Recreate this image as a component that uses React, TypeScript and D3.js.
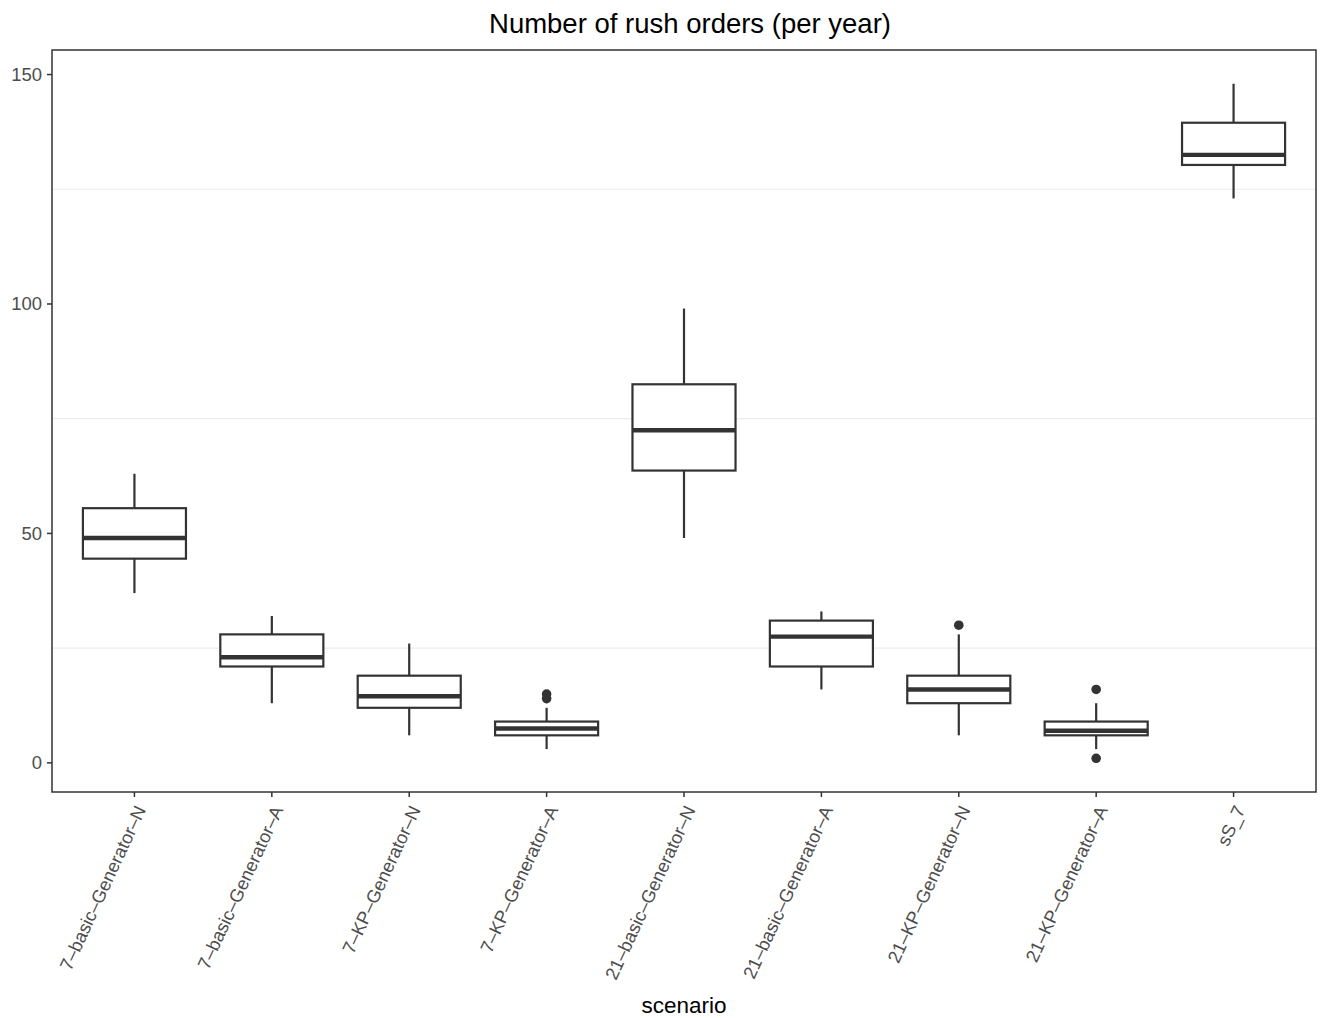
import React from 'react';
import * as d3 from 'd3';

const scenarios = [
  '7–basic–Generator–N',
  '7–basic–Generator–A',
  '7–KP–Generator–N',
  '7–KP–Generator–A',
  '21–basic–Generator–N',
  '21–basic–Generator–A',
  '21–KP–Generator–N',
  '21–KP–Generator–A',
  'sS_7',
];
const lowerWhisker = [37, 13, 6, 3, 49, 16, 6, 3, 123];
const q1 = [44.5, 21, 12, 6, 63.7, 21, 13, 6, 130.3];
const median = [49, 23, 14.5, 7.5, 72.5, 27.5, 16, 7, 132.5];
const q3 = [55.5, 28, 19, 9, 82.5, 31, 19, 9, 139.5];
const upperWhisker = [63, 32, 26, 12, 99, 33, 28, 13, 148];
const outliers: number[][] = [[], [], [], [14, 15], [], [], [30], [16, 1], []];
const yTicks = [0, 50, 100, 150];
const yMinorTicks = [25, 75, 125];

const W = 1322;
const H = 1018;
const margin = { top: 50, right: 6, bottom: 226, left: 52 };
const font = "'Liberation Sans', Arial, Helvetica, sans-serif";
const ink = '#333333';

const App = () => {
  const x0 = margin.left;
  const x1 = W - margin.right;
  const y0 = margin.top;
  const y1 = H - margin.bottom;

  const allVals = [...lowerWhisker, ...upperWhisker, ...outliers.flat()];
  const lo = d3.min(allVals)!;
  const hi = d3.max(allVals)!;
  const pad = (hi - lo) * 0.05;

  const y = d3.scaleLinear().domain([lo - pad, hi + pad]).range([y1, y0]);
  const x = d3.scalePoint<string>().domain(scenarios).range([x0, x1]).padding(0.6);
  const boxW = x.step() * 0.75;

  const boxes = scenarios.map((s, i) => ({
    s,
    cx: x(s)!,
    lw: lowerWhisker[i],
    q1: q1[i],
    med: median[i],
    q3: q3[i],
    uw: upperWhisker[i],
    out: outliers[i],
  }));

  return (
    <svg width={W} height={H} style={{ position: 'absolute', left: 0, top: 0, display: 'block' }} fontFamily={font}>
      <rect x={0} y={0} width={W} height={H} fill="#ffffff" />

      {/* minor grid */}
      {yMinorTicks.map(t => (
        <line key={t} x1={x0} x2={x1} y1={y(t)} y2={y(t)} stroke="#ebebeb" strokeWidth={1.2} />
      ))}

      {/* boxes */}
      {boxes.map(b => (
        <g key={b.s}>
          <line x1={b.cx} x2={b.cx} y1={y(b.q3)} y2={y(b.uw)} stroke={ink} strokeWidth={2.2} />
          <line x1={b.cx} x2={b.cx} y1={y(b.q1)} y2={y(b.lw)} stroke={ink} strokeWidth={2.2} />
          <rect
            x={b.cx - boxW / 2}
            y={y(b.q3)}
            width={boxW}
            height={y(b.q1) - y(b.q3)}
            fill="#ffffff"
            stroke={ink}
            strokeWidth={2.2}
          />
          <line
            x1={b.cx - boxW / 2}
            x2={b.cx + boxW / 2}
            y1={y(b.med)}
            y2={y(b.med)}
            stroke={ink}
            strokeWidth={4.4}
          />
          {b.out.map((o, j) => (
            <circle key={j} cx={b.cx} cy={y(o)} r={4.8} fill={ink} />
          ))}
        </g>
      ))}

      {/* panel border */}
      <rect x={x0} y={y0} width={x1 - x0} height={y1 - y0} fill="none" stroke={ink} strokeWidth={1.5} />

      {/* y axis */}
      {yTicks.map(t => (
        <g key={t} transform={`translate(0,${y(t)})`}>
          <line x1={x0 - 5} x2={x0} stroke={ink} strokeWidth={1.5} />
          <text x={x0 - 10} dy="0.35em" textAnchor="end" fontSize={18.5} fill="#4d4d4d">
            {t}
          </text>
        </g>
      ))}

      {/* x axis */}
      {scenarios.map(s => (
        <g key={s}>
          <line x1={x(s)} x2={x(s)} y1={y1} y2={y1 + 5} stroke={ink} strokeWidth={1.5} />
          <text
            transform={`translate(${x(s)},${y1 + 12}) rotate(-65)`}
            dy="0.72em"
            textAnchor="end"
            fontSize={18.3}
            fill="#4d4d4d"
          >
            {s}
          </text>
        </g>
      ))}

      {/* titles */}
      <text x={690} y={33} textAnchor="middle" fontSize={27.5} fill="#000000">
        Number of rush orders (per year)
      </text>
      <text x={(x0 + x1) / 2} y={1013} textAnchor="middle" fontSize={22.5} fill="#000000">
        scenario
      </text>
    </svg>
  );
};

export default App;
